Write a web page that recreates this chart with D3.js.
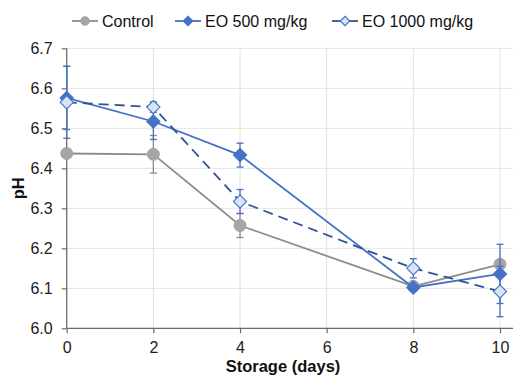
<!DOCTYPE html>
<html><head><meta charset="utf-8">
<script src="https://cdn.jsdelivr.net/npm/d3@7/dist/d3.min.js"></script>
<style>body{margin:0;background:#fff;} svg{display:block;font-family:"Liberation Sans",Arial,sans-serif;}</style>
</head><body>
<svg id="c" width="513" height="376"></svg>
<script>
const days = [0, 2, 4, 8, 10];
const xTicks = [0, 2, 4, 6, 8, 10];
const yTicks = [6.0, 6.1, 6.2, 6.3, 6.4, 6.5, 6.6, 6.7];
const seriesNames = ["Control", "EO 500 mg/kg", "EO 1000 mg/kg"];
const controlVals = [6.437, 6.435, 6.257, 6.105, 6.160];
const controlErr  = [0.005, 0.047, 0.030, 0.008, 0.010];
const eo500Vals   = [6.576, 6.517, 6.433, 6.102, 6.136];
const eo500Err    = [0.079, 0.045, 0.030, 0.008, 0.074];
const eo1000Vals  = [6.565, 6.553, 6.317, 6.150, 6.092];
const eo1000Err   = [0.090, 0.013, 0.030, 0.024, 0.063];

const svg = d3.select("#c");
const x = d3.scaleLinear().domain([0, 10.3]).range([66.7, 513]);
const y = d3.scaleLinear().domain([6.0, 6.7]).range([328.3, 48.3]);

// grid
svg.append("g").selectAll("line").data(yTicks.slice(1)).join("line")
  .attr("x1", x(0)).attr("x2", 513).attr("y1", d => y(d)).attr("y2", d => y(d))
  .attr("stroke", "#e3e3e3").attr("stroke-width", 1);
svg.append("g").selectAll("line").data(xTicks.slice(1)).join("line")
  .attr("x1", d => x(d)).attr("x2", d => x(d)).attr("y1", y(6.7)).attr("y2", y(6.0))
  .attr("stroke", "#e3e3e3").attr("stroke-width", 1);

// axes
const yAxis = svg.append("g").attr("transform", `translate(${x(0)},0)`)
  .call(d3.axisLeft(y).tickValues(yTicks).tickFormat(d3.format(".1f")).tickSize(5).tickPadding(9));
const xAxis = svg.append("g").attr("transform", `translate(0,${y(6.0)})`)
  .call(d3.axisBottom(x).tickValues(xTicks).tickFormat(d3.format("d")).tickSize(5).tickPadding(8));
[yAxis, xAxis].forEach(a => {
  a.select(".domain").attr("stroke", "#6b6b6b").attr("stroke-width", 1.3);
  a.selectAll(".tick line").attr("stroke", "#6b6b6b").attr("stroke-width", 1.2);
  a.selectAll("text").attr("font-size", 16).attr("fill", "#222")
    .attr("font-family", '"Liberation Sans",Arial,sans-serif');
});
yAxis.select(".domain").attr("d", `M0,${y(6.7)}V${y(6.0)}`);
xAxis.select(".domain").attr("d", `M${x(0)},0H513`);

// titles
svg.append("text").attr("x", 283).attr("y", 371.5).attr("text-anchor", "middle")
  .attr("font-size", 16.5).attr("font-weight", "bold").attr("fill", "#111").text("Storage (days)");
svg.append("text").attr("transform", `translate(24,${y(6.35)}) rotate(-90)`).attr("text-anchor", "middle")
  .attr("font-size", 16.5).attr("font-weight", "bold").attr("fill", "#111").text("pH");

const series = [
  {name: seriesNames[0], vals: controlVals, err: controlErr, line: "#8c8c8c", dash: null, shape: "circle", fill: "#a5a5a5", stroke: "#a5a5a5", errC: "#8c8c8c"},
  {name: seriesNames[1], vals: eo500Vals, err: eo500Err, line: "#4472c4", dash: null, shape: "diamond", fill: "#4472c4", stroke: "#4472c4", errC: "#4472c4"},
  {name: seriesNames[2], vals: eo1000Vals, err: eo1000Err, line: "#2f5597", dash: "10,6", shape: "diamond", fill: "#dae3f3", stroke: "#4472c4", errC: "#4472c4"}
];

const lineGen = d3.line().x(d => x(d[0])).y(d => y(d[1]));
function marker(g, s, cx, cy, scale) {
  if (s.shape === "circle") {
    g.append("circle").attr("cx", cx).attr("cy", cy).attr("r", 6 * scale)
      .attr("fill", s.fill).attr("stroke", s.stroke).attr("stroke-width", 1);
  } else {
    const r = 6.6 * scale;
    g.append("path").attr("d", `M${cx},${cy - r}L${cx + r},${cy}L${cx},${cy + r}L${cx - r},${cy}Z`)
      .attr("fill", s.fill).attr("stroke", s.stroke).attr("stroke-width", 1.1);
  }
}

series.forEach(s => {
  const g = svg.append("g");
  const pts = days.map((d, i) => [d, s.vals[i], s.err[i]]);
  pts.forEach(p => {
    const x0 = x(p[0]), y1 = y(p[1] + p[2]), y2 = y(p[1] - p[2]);
    g.append("line").attr("x1", x0).attr("x2", x0).attr("y1", y1).attr("y2", y2)
      .attr("stroke", s.errC).attr("stroke-width", 1.3);
    [y1, y2].forEach(yy => g.append("line").attr("x1", x0 - 3.5).attr("x2", x0 + 3.5)
      .attr("y1", yy).attr("y2", yy).attr("stroke", s.errC).attr("stroke-width", 1.3));
  });
  g.append("path").datum(pts).attr("d", lineGen).attr("fill", "none")
    .attr("stroke", s.line).attr("stroke-width", 1.8).attr("stroke-dasharray", s.dash);
  pts.forEach(p => marker(g, s, x(p[0]), y(p[1]), 1));
});

// legend
const legX = [72, 175, 332];
series.forEach((s, i) => {
  const g = svg.append("g");
  const lx = legX[i];
  g.append("line").attr("x1", lx).attr("x2", lx + 26).attr("y1", 21).attr("y2", 21)
    .attr("stroke", s.line).attr("stroke-width", 1.8);
  marker(g, s, lx + 13, 21, 0.72);
  g.append("text").attr("x", lx + 30).attr("y", 27).attr("font-size", 16).attr("fill", "#111").text(s.name);
});
</script>
</body></html>
